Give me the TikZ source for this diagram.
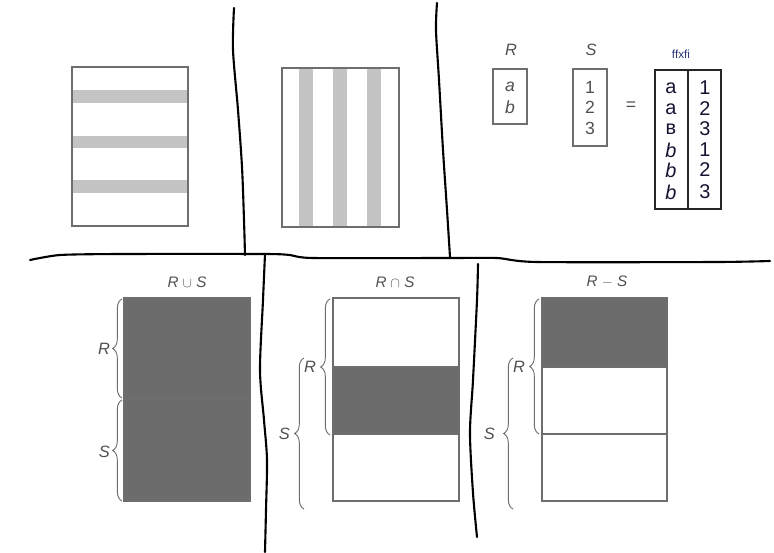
\documentclass[tikz,border=0pt]{standalone}
\usepackage{fontspec}
\setmainfont{Liberation Sans}
\usepackage{tikz}
\usetikzlibrary{decorations.pathreplacing}
\usepackage{xcolor}
\definecolor{framegray}{RGB}{110,110,110}
\definecolor{fillgray}{RGB}{108,108,108}
\definecolor{stripegray}{RGB}{196,196,196}
\definecolor{printgray}{RGB}{80,80,80}
\definecolor{inkblue}{RGB}{20,20,50}
\definecolor{tagblue}{RGB}{40,50,120}
\tikzset{
    % Panel dividers
    divline/.style={line width=1.8pt, black, line cap=round},
    % Set diagrams
    setframe/.style={draw=framegray, line width=1pt},
    darkpart/.style={fill=fillgray},
    stripe/.style={fill=stripegray},
    setbrace/.style={decorate, decoration={brace, amplitude=8pt},
                 draw=framegray, line width=0.8pt},
    setlbl/.style={font=\fontsize{14}{16}\selectfont\itshape, text=printgray},
    oplbl/.style={font=\fontsize{13}{15}\selectfont\itshape, text=printgray},
    % Product tables
    relentry/.style={font=\fontsize{15}{17}\selectfont, text=printgray},
    resentry/.style={font=\fontsize{17}{19}\selectfont, text=inkblue},
    resframe/.style={draw=black!85, line width=1.1pt},
}
\begin{document}
\begin{tikzpicture}[x=0.03cm, y=-0.03cm]
\useasboundingbox (0,0) rectangle (774,553);

% selection: horizontal stripes
\fill[stripe] (73,90) rectangle (187,103);
\fill[stripe] (73,136) rectangle (187,148);
\fill[stripe] (73,180) rectangle (187,193);
\draw[setframe] (72,67) rectangle (188,226);

% projection: vertical stripes
\fill[stripe] (299,69) rectangle (313,226);
\fill[stripe] (333,69) rectangle (347,226);
\fill[stripe] (367,69) rectangle (381,226);
\draw[setframe] (282,68) rectangle (399,227);

% product
\node[setlbl] (rname) at (511,50) {R};
\node[setlbl] (sname) at (591,50) {S};
\draw[setframe] (493,69) rectangle (527,124);
\draw[setframe] (573,69) rectangle (607,146);
\node[relentry, font=\fontsize{15}{17}\selectfont\itshape] (ra) at (510,87) {a};
\node[relentry, font=\fontsize{15}{17}\selectfont\itshape] (rb) at (510,107) {b};
\node[relentry] (s1) at (590,87) {1};
\node[relentry] (s2) at (590,107) {2};
\node[relentry] (s3) at (590,128) {3};
\node[relentry] (eq) at (631,106) {=};
\node[font=\fontsize{10}{11}\selectfont, text=tagblue] (tag) at (681,54) {ffxfi};
\draw[resframe] (655,70) rectangle (721,209);
\draw[resframe] (688,70) -- (688,209);
\node[resentry] (c1) at (671,88) {a};
\node[resentry] (c2) at (671,109) {a};
\node[resentry] (c3) at (671,129) {в};
\node[resentry, font=\fontsize{17}{19}\selectfont\itshape] (c4) at (671,150) {b};
\node[resentry, font=\fontsize{17}{19}\selectfont\itshape] (c5) at (671,170) {b};
\node[resentry, font=\fontsize{17}{19}\selectfont\itshape] (c6) at (671,192) {b};
\node[resentry] (d1) at (705,88) {1};
\node[resentry] (d2) at (705,109) {2};
\node[resentry] (d3) at (705,129) {3};
\node[resentry] (d4) at (705,150) {1};
\node[resentry] (d5) at (705,170) {2};
\node[resentry] (d6) at (705,192) {3};

% union
\node[oplbl] (uname) at (187,282) {R $\cup$ S};
\fill[darkpart] (124,298) rectangle (250,501);
\draw[setframe] (124,298) rectangle (250,501);
\draw[setframe] (124,399) -- (250,399);
\draw[setbrace] (122,398) -- (122,299);
\draw[setbrace] (122,501) -- (122,400);
\node[setlbl, anchor=east] (ur) at (114,349) {R};
\node[setlbl, anchor=east] (us) at (114,452) {S};

% intersection
\node[oplbl] (iname) at (395,282) {R $\cap$ S};
\fill[darkpart] (333,367) rectangle (459,434);
\draw[setframe] (333,298) rectangle (459,501);
\draw[setframe] (333,367) -- (459,367);
\draw[setframe] (333,434) -- (459,434);
\draw[setbrace] (330,435) -- (330,299);
\draw[setbrace] (304,509) -- (304,358);
\node[setlbl, anchor=east] (ir) at (320,367) {R};
\node[setlbl, anchor=east] (is) at (294,434) {S};

% difference
\node[oplbl] (dname) at (607,282) {R $-$ S};
\fill[darkpart] (542,298) rectangle (667,367);
\draw[setframe] (542,298) rectangle (667,501);
\draw[setframe] (542,367) -- (667,367);
\draw[setframe] (542,434) -- (667,434);
\draw[setbrace] (539,434) -- (539,299);
\draw[setbrace] (513,509) -- (513,358);
\node[setlbl, anchor=east] (dr) at (529,367) {R};
\node[setlbl, anchor=east] (ds) at (499,434) {S};

% hand-drawn dividers
\draw[divline] plot[smooth, tension=0.5] coordinates {(234,8) (233,50) (238,110) (242,167) (244,220) (245,255)};
\draw[divline] plot[smooth, tension=0.5] coordinates {(437,3) (436,30) (439,80) (443,150) (447,210) (450,257)};
\draw[divline] plot[smooth, tension=0.4] coordinates {(30,260) (60,255) (120,254) (265,254) (290,255) (313,258) (450,258) (497,258) (537,262) (717,262) (770,261)};
\draw[divline] plot[smooth, tension=0.5] coordinates {(265,254) (263,300) (260,370) (264,420) (267,460) (266,510) (265,552)};
\draw[divline] plot[smooth, tension=0.5] coordinates {(478,264) (477,300) (473,380) (470,433) (473,493) (477,537)};
\end{tikzpicture}
\end{document}
